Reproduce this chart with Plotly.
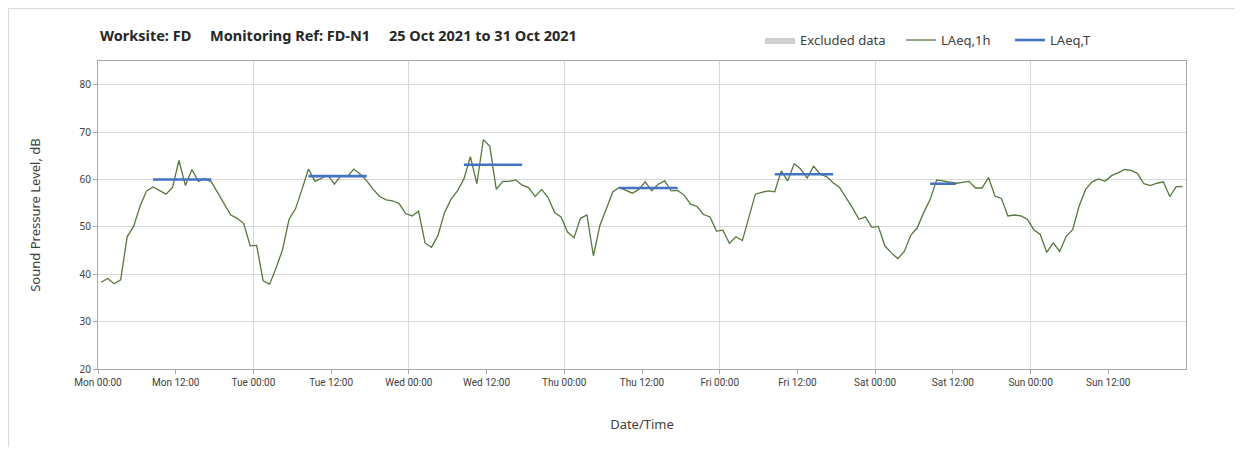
"""
Noise monitoring chart - LAeq,1h with daytime LAeq,T
"""

import pandas as pd
import plotly.graph_objects as go

# 1-hour LAeq values, Mon 25 Oct 2021 00:00 to Sun 31 Oct 2021 23:00
laeq_1h = [
    38.3, 39.1, 38.0, 38.8, 47.9, 50.1, 54.4, 57.6, 58.4, 57.7, 56.9, 58.3,
    64.0, 58.7, 62.1, 59.6, 60.2, 59.5, 57.2, 54.8, 52.5, 51.8, 50.7, 46.0,
    46.1, 38.6, 37.9, 41.3, 45.2, 51.6, 53.8, 57.9, 62.2, 59.6, 60.2, 60.9,
    59.0, 60.8, 60.6, 62.2, 61.1, 59.7, 57.9, 56.4, 55.7, 55.5, 54.9, 52.8,
    52.3, 53.3, 46.6, 45.7, 48.2, 53.0, 55.8, 57.6, 60.1, 64.8, 59.1, 68.4,
    67.0, 57.9, 59.6, 59.6, 59.9, 58.8, 58.3, 56.4, 57.9, 56.2, 53.0, 52.1,
    48.9, 47.7, 51.8, 52.5, 43.9, 50.3, 53.8, 57.4, 58.3, 57.7, 57.1, 57.9,
    59.5, 57.6, 59.0, 59.7, 57.6, 57.7, 56.7, 54.8, 54.3, 52.6, 52.1, 49.1,
    49.3, 46.5, 47.9, 47.1, 52.0, 56.9, 57.3, 57.6, 57.4, 61.8, 59.7, 63.3,
    62.2, 60.3, 62.8, 61.1, 60.6, 59.3, 58.3, 56.2, 54.0, 51.6, 52.1, 49.9,
    50.1, 46.0, 44.5, 43.3, 44.8, 48.2, 49.8, 53.0, 55.8, 59.9, 59.7, 59.5,
    59.2, 59.4, 59.6, 58.2, 58.2, 60.4, 56.5, 56.0, 52.3, 52.5, 52.3, 51.6,
    49.4, 48.4, 44.6, 46.6, 44.8, 48.0, 49.4, 54.4, 57.9, 59.5, 60.1, 59.6,
    60.8, 61.4, 62.1, 61.9, 61.3, 59.1, 58.7, 59.2, 59.5, 56.4, 58.5, 58.5,
]
times = pd.date_range("2021-10-25 00:30", periods=len(laeq_1h), freq="h")

# Daytime LAeq,T periods
period_start = ["2021-10-25 08:30", "2021-10-26 08:30", "2021-10-27 08:30",
                "2021-10-28 08:30", "2021-10-29 08:30", "2021-10-30 08:30"]
period_end = ["2021-10-25 17:30", "2021-10-26 17:30", "2021-10-27 17:30",
              "2021-10-28 17:30", "2021-10-29 17:30", "2021-10-30 12:30"]
laeq_t = [60.0, 60.7, 63.1, 58.2, 61.1, 59.1]

# x tick positions: every 12 hours, Mon 00:00 .. Sun 12:00
tick_times = pd.date_range("2021-10-25 00:00", periods=14, freq="12h")

# no excluded data this week (placeholder keeps the legend entry)
excluded_x = [None]
excluded_y = [None]

GREEN = "#56773d"
BLUE = "#4472c4"
GRID = "#d9d9d9"
AXIS = "#a6a6a6"
TEXT = "#404040"

# build one broken line for all LAeq,T periods
t_x, t_y = [], []
for s, e, v in zip(period_start, period_end, laeq_t):
    t_x += [s, e, None]
    t_y += [v, v, None]

fig = go.Figure()

fig.add_trace(go.Scatter(
    x=excluded_x, y=excluded_y, name="Excluded data", mode="lines",
    fill="toself", fillcolor="#d0d0d0", line=dict(width=0, color="#d0d0d0"),
    xaxis="x2", legendwidth=96
))
fig.add_trace(go.Scatter(
    x=times, y=laeq_1h, mode="lines", name="LAeq,1h",
    line=dict(color=GREEN, width=1.3), legendwidth=64
))
fig.add_trace(go.Scatter(
    x=t_x, y=t_y, mode="lines", name="LAeq,T",
    line=dict(color=BLUE, width=2.6)
))

x_range = ["2021-10-25 00:00", "2021-11-01 00:00"]

# page body adds an 8px offset, so the figure is sized to fit inside it
fig.update_layout(
    width=1227, height=439,
    margin=dict(l=90, r=49, t=53, b=78, autoexpand=False),
    plot_bgcolor="white", paper_bgcolor="white",
    font=dict(family="Noto Sans, sans-serif", size=12, color=TEXT),
    showlegend=True,
    legend=dict(
        orientation="h", x=0.6085, xanchor="left", y=1.068, yanchor="middle",
        font=dict(size=13, color=TEXT), traceorder="normal",
        bgcolor="rgba(0,0,0,0)"
    ),
    xaxis=dict(
        type="date", range=x_range, automargin=False,
        tickmode="array", tickvals=tick_times, tickformat="%a %H:%M",
        showgrid=False, showline=True, mirror=True, linecolor=AXIS,
        ticks="outside", ticklen=4, tickcolor=AXIS,
        tickfont=dict(family="Liberation Sans Narrow, Roboto, sans-serif",
                      size=10, color=TEXT),
        title=dict(text="Date/Time", font=dict(size=13, color=TEXT), standoff=32),
        zeroline=False,
    ),
    xaxis2=dict(
        type="date", range=x_range, overlaying="x", side="bottom",
        tick0="2021-10-25", dtick=24 * 3600 * 1000,
        showgrid=True, gridcolor=GRID, gridwidth=1,
        showticklabels=False, ticks="", showline=False, zeroline=False,
    ),
    yaxis=dict(
        range=[20, 85], dtick=10, tick0=0, automargin=False,
        showgrid=True, gridcolor=GRID, gridwidth=1,
        showline=True, mirror=True, linecolor=AXIS,
        ticks="outside", ticklen=4, tickcolor=AXIS,
        tickfont=dict(size=10, color=TEXT),
        title=dict(text="Sound Pressure Level, dB",
                   font=dict(size=13, color=TEXT), standoff=35),
        zeroline=False,
    ),
)

# chart title line
fig.add_annotation(
    text="<b>Worksite: FD&nbsp;&nbsp;&nbsp;&nbsp;&nbsp;Monitoring Ref: FD-N1"
         "&nbsp;&nbsp;&nbsp;&nbsp;&nbsp;25 Oct 2021 to 31 Oct 2021</b>",
    xref="paper", yref="paper", x=0, y=1.084,
    xanchor="left", yanchor="middle", showarrow=False,
    font=dict(size=14.5, color="#262626")
)

# outer chart border
fig.add_shape(
    type="rect", xref="paper", yref="paper",
    x0=(0.5 - 90) / 1088, x1=(1260 - 90) / 1088,
    y0=(361 - 470) / 308, y1=(361 - 0.5) / 308,
    line=dict(color=GRID, width=1), layer="below"
)

fig.write_html("out.html")
